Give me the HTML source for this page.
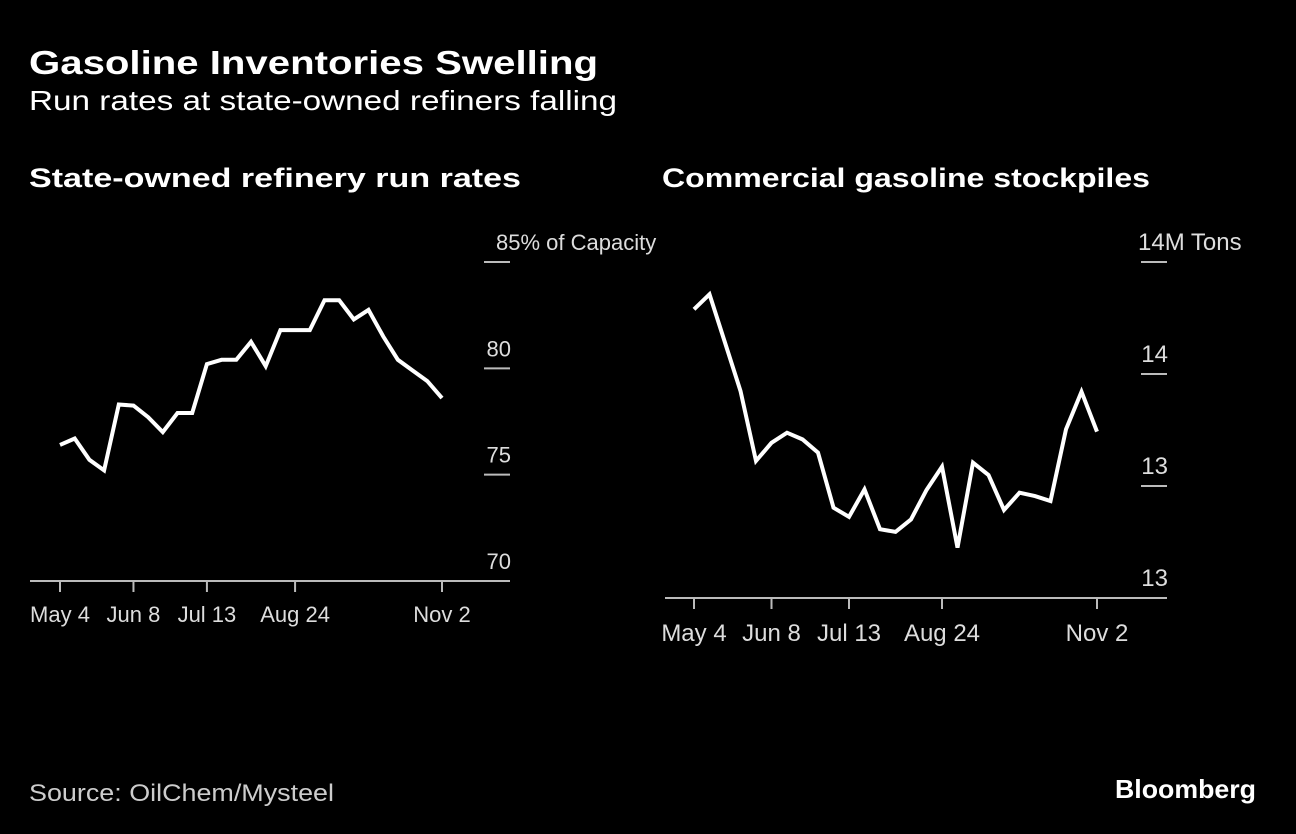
<!DOCTYPE html>
<html><head><meta charset="utf-8"><style>
html,body{margin:0;padding:0;background:#000;}
svg{display:block;font-family:"Liberation Sans",sans-serif;}
</style></head><body>
<svg id="chart" width="1296" height="834" viewBox="0 0 1296 834">
<rect width="1296" height="834" fill="#000"/>
<text x="29" y="74" fill="#fff" font-weight="bold" font-size="33" textLength="569" lengthAdjust="spacingAndGlyphs">Gasoline Inventories Swelling</text>
<text x="29" y="110" fill="#fff" font-size="28" textLength="588" lengthAdjust="spacingAndGlyphs">Run rates at state-owned refiners falling</text>
<text x="29" y="187" fill="#fff" font-weight="bold" font-size="27" textLength="492" lengthAdjust="spacingAndGlyphs">State-owned refinery run rates</text>
<text x="662" y="187" fill="#fff" font-weight="bold" font-size="27" textLength="488" lengthAdjust="spacingAndGlyphs">Commercial gasoline stockpiles</text>
<text x="29" y="801" fill="#ccc" font-size="24" textLength="305" lengthAdjust="spacingAndGlyphs">Source: OilChem/Mysteel</text>
<text x="1115" y="798" fill="#fff" font-weight="bold" font-size="26" textLength="141" lengthAdjust="spacingAndGlyphs">Bloomberg</text>
<g id="left"></g>
<g id="right"></g>
</svg>
<script>
const leftValues=[76.4,76.7,75.7,75.2,78.3,78.25,77.7,77.0,77.9,77.9,80.2,80.4,80.4,81.25,80.1,81.8,81.8,81.8,83.2,83.2,82.3,82.75,81.5,80.4,79.9,79.4,78.6];
const leftTicks=[85,80,75,70];
const leftTickLabels=["85% of Capacity","80","75","70"];
const rightValues=[14.289,14.356,14.14,13.924,13.612,13.693,13.738,13.708,13.649,13.403,13.362,13.485,13.307,13.295,13.351,13.482,13.586,13.225,13.604,13.549,13.393,13.47,13.455,13.433,13.753,13.921,13.743];
const rightTicks=[14.5,14,13.5,13];
const rightTickLabels=["14M Tons","14","13","13"];
const xTickWeeks=[0,5,10,16,26];
const xTickLabels=["May 4","Jun 8","Jul 13","Aug 24","Nov 2"];
const NS="http://www.w3.org/2000/svg";
function mk(tag,attrs,parent){const e=document.createElementNS(NS,tag);for(const k in attrs)e.setAttribute(k,attrs[k]);parent.appendChild(e);return e;}
function drawPanel(g,cfg,values,ticks,labels,prefix){
  const x=i=>cfg.x0+(cfg.x1-cfg.x0)*i/26;
  const y=v=>cfg.y0+(cfg.yMax-v)/(cfg.yMax-cfg.yMin)*(cfg.y1-cfg.y0);
  ticks.forEach((t,i)=>{
    const yy=y(t);
    if(i<ticks.length-1){
      const l=mk('line',{x1:cfg.gx0,x2:cfg.gx1,y1:yy,y2:yy,stroke:'#bbb','stroke-width':2},g);
      
      
    }
    const tx=mk('text',{x:cfg.labelX,y:yy-12,fill:'#ddd','font-size':cfg.fs},g);
    if(i===0){tx.setAttribute('x',cfg.labelX0);}else{tx.setAttribute('text-anchor','end');}
    tx.textContent=labels[i];
    
    
  });
  const ax=mk('line',{x1:cfg.ax0,x2:cfg.gx1,y1:cfg.y1,y2:cfg.y1,stroke:'#bbb','stroke-width':2},g);
  
  
  xTickWeeks.forEach((w,i)=>{
    const t=mk('line',{x1:x(w),x2:x(w),y1:cfg.y1,y2:cfg.y1+11,stroke:'#bbb','stroke-width':2},g);
    
    
    const tl=mk('text',{x:x(w),y:cfg.y1+cfg.xlOff,fill:'#ddd','font-size':cfg.fs,'text-anchor':'middle'},g);
    tl.textContent=xTickLabels[i];
    
    
  });
  const pts=values.map((v,i)=>x(i).toFixed(1)+','+y(v).toFixed(1)).join(' ');
  const p=mk('polyline',{points:pts,fill:'none',stroke:'#fff','stroke-width':4,'stroke-linejoin':'miter'},g);
  
  
}
drawPanel(document.getElementById('left'),{x0:60,x1:442,y0:262,y1:581,yMax:85,yMin:70,gx0:484,gx1:510,ax0:30,labelX:511,labelX0:496,fs:22,xlOff:41},leftValues,leftTicks,leftTickLabels,'run-rate');
drawPanel(document.getElementById('right'),{x0:694,x1:1097,y0:262,y1:598,yMax:14.5,yMin:13,gx0:1141,gx1:1167,ax0:665,labelX:1168,labelX0:1138,fs:24,xlOff:43},rightValues,rightTicks,rightTickLabels,'stockpile');
</script>
</body></html>
